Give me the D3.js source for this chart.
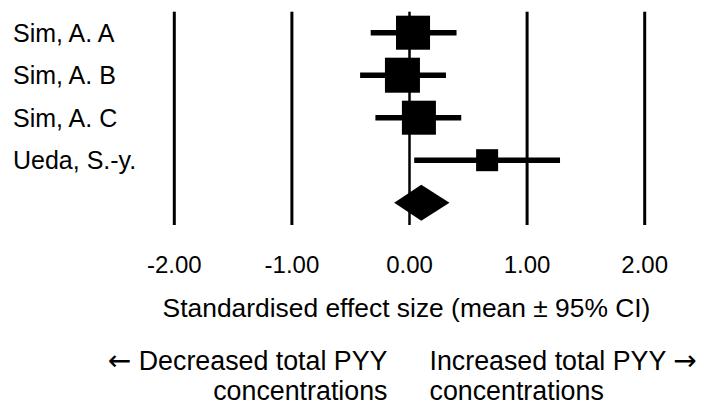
<!DOCTYPE html>
<html>
<head>
<meta charset="utf-8">
<script src="https://cdn.jsdelivr.net/npm/d3@7"></script>
<style>
  body { margin: 0; background: #fff; }
  svg { display: block; font-family: "Liberation Sans", Arial, sans-serif; }
</style>
</head>
<body>
<svg id="chart" width="704" height="407"></svg>
<script>
// forest plot data
const studies  = ['Sim, A. A', 'Sim, A. B', 'Sim, A. C', 'Ueda, S.-y.'];
const means    = [0.03, -0.06, 0.08, 0.66];
const lowers   = [-0.33, -0.42, -0.29, 0.04];
const uppers   = [0.40, 0.31, 0.44, 1.28];
const weights  = [28.9, 30.6, 28.9, 12.1];   // relative study weight (%)
const pooled   = { mean: 0.10, lower: -0.13, upper: 0.34 };
const ticks    = [-2, -1, 0, 1, 2];

const svg = d3.select('#chart');

let x = d3.scaleLinear().domain([-2, 2]).range([174.3, 644.7]);
let y = d3.scalePoint().domain(d3.range(studies.length + 1)).range([32.7, 202.7]);
let size = d3.scaleSqrt().domain([0, d3.max(weights)]).range([0, 35]);

// vertical reference lines
svg.append('g')
    .selectAll('line')
    .data(ticks)
    .enter().append('line')
    .attr('x1', d => x(d))
    .attr('x2', d => x(d))
    .attr('y1', 11.7)
    .attr('y2', 225)
    .attr('stroke', '#000')
    .attr('stroke-width', d => d == 0 ? 2.5 : 3);

// study labels
svg.append('g')
    .selectAll('text')
    .data(studies)
    .enter().append('text')
    .attr('x', 13)
    .attr('y', (d, i) => y(i) + 9)
    .attr('font-size', 25)
    .text(d => d);

// confidence intervals
svg.append('g')
    .selectAll('line')
    .data(studies)
    .enter().append('line')
    .attr('x1', (d, i) => x(lowers[i]))
    .attr('x2', (d, i) => x(uppers[i]))
    .attr('y1', (d, i) => y(i))
    .attr('y2', (d, i) => y(i))
    .attr('stroke', '#000')
    .attr('stroke-width', 5.5);

// weighted squares
svg.append('g')
    .selectAll('rect')
    .data(studies)
    .enter().append('rect')
    .attr('x', (d, i) => x(means[i]) - size(weights[i]) / 2)
    .attr('y', (d, i) => y(i) - size(weights[i]) / 2)
    .attr('width', (d, i) => size(weights[i]))
    .attr('height', (d, i) => size(weights[i]))
    .attr('fill', '#000');

// pooled diamond
let py = y(studies.length), dh = 18;
svg.append('path')
    .attr('d', `M${x(pooled.lower)},${py} L${x(pooled.mean)},${py - dh} L${x(pooled.upper)},${py} L${x(pooled.mean)},${py + dh} Z`)
    .attr('fill', '#000');

// tick labels
let fmt = d => d3.format('.2f')(d).replace('\u2212', '-');
svg.append('g')
    .selectAll('text')
    .data(ticks)
    .enter().append('text')
    .attr('x', d => x(d))
    .attr('y', 273)
    .attr('text-anchor', 'middle')
    .attr('font-size', 24)
    .text(fmt);

svg.append('text')
    .attr('x', 406.5)
    .attr('y', 316.7)
    .attr('text-anchor', 'middle')
    .attr('font-size', 26.4)
    .text('Standardised effect size (mean \u00b1 95% CI)');

// direction captions
let x0 = x(0);
let left = svg.append('text').attr('text-anchor', 'end').attr('font-size', 26.8);
left.append('tspan').attr('x', x0 - 22).attr('y', 370)
    .attr('font-family', 'DejaVu Sans').attr('font-size', 28).text('\u2190');
left.append('tspan').text(' Decreased total PYY');
left.append('tspan').attr('x', x0 - 22).attr('y', 400).text('concentrations');

let right = svg.append('text').attr('text-anchor', 'start').attr('font-size', 26.8);
right.append('tspan').attr('x', x0 + 20).attr('y', 370).text('Increased total PYY ');
right.append('tspan').attr('font-family', 'DejaVu Sans').attr('font-size', 28).text('\u2192');
right.append('tspan').attr('x', x0 + 20).attr('y', 400).text('concentrations');
</script>
</body>
</html>
